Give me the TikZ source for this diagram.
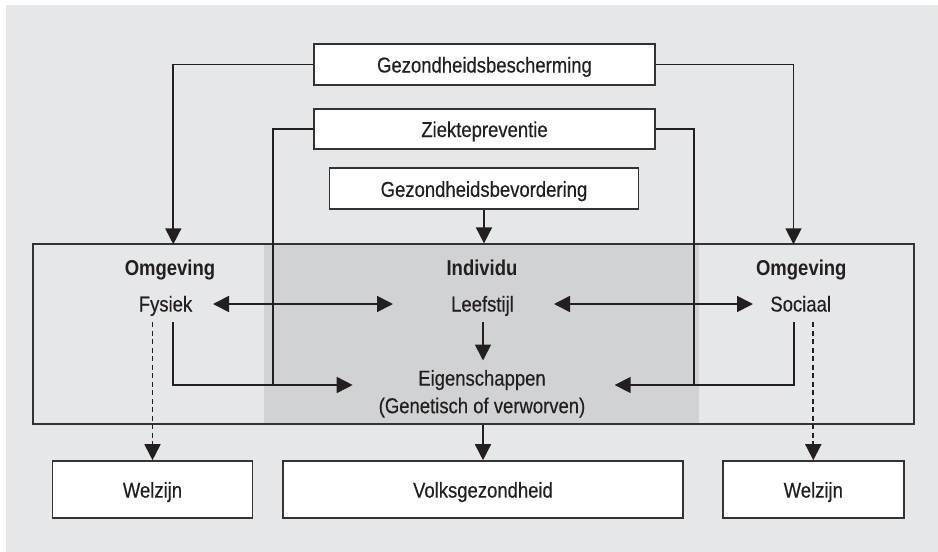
\documentclass[tikz,border=0pt]{standalone}
\usepackage{fontspec}
\setmainfont{Liberation Sans}[FakeStretch=0.86, UprightFeatures={FakeBold=0.4}]
\usetikzlibrary{arrows.meta}
\definecolor{bg}{HTML}{E6E7E8}
\definecolor{indfill}{HTML}{D1D2D4}
\definecolor{ink}{HTML}{231F20}
\definecolor{edge}{HTML}{333333}
\begin{document}
\begin{tikzpicture}[x=1pt,y=-1pt,
  font=\fontsize{21.5}{25}\selectfont,
  box/.style={draw=edge, fill=white, line width=1.8pt, text=ink, text height=16pt, text depth=0pt, inner sep=0pt},
  lab/.style={anchor=base, inner sep=0pt, text=ink},
  conn/.style={draw=ink, line width=1.7pt},
  arr/.style={conn, -{Triangle[length=16pt,width=16pt]}},
  darr/.style={conn, {Triangle[length=16pt,width=16pt]}-{Triangle[length=16pt,width=16pt]}},
  dsh/.style={arr, dash pattern=on 5pt off 3.5pt}]
\useasboundingbox (0,0) rectangle (938,552);
\fill[bg] (6,5) rectangle (938,552);
% individu region
\fill[indfill] (264,244.3) rectangle (699,424.3);
\node[draw=edge, line width=1.8pt, minimum width=881pt, minimum height=180pt, inner sep=0pt] (env) at (473.5,334.3) {};
% top boxes
\node[box, minimum width=341pt, minimum height=41pt] (gb) at (484.5,64.5) {Gezondheidsbescherming};
\node[box, minimum width=341pt, minimum height=40pt] (zp) at (484.5,129) {Ziektepreventie};
\node[box, minimum width=309pt, minimum height=41pt] (gv) at (484,188.8) {Gezondheidsbevordering};
% bottom boxes
\node[box, minimum width=200pt, minimum height=57pt] (wl) at (152.5,489.6) {Welzijn};
\node[box, minimum width=400pt, minimum height=57pt] (vg) at (483,489.6) {Volksgezondheid};
\node[box, minimum width=181pt, minimum height=57pt] (wr) at (813.3,489.6) {Welzijn};
% labels
\node[lab] (omgL) at (170,275.5) {\bfseries Omgeving};
\node[lab] (indiv) at (482,275.5) {\bfseries Individu};
\node[lab] (omgR) at (801.3,275.5) {\bfseries Omgeving};
\node[lab] (fys) at (165.5,311.5) {Fysiek};
\node[lab] (lfs) at (482.5,311.5) {Leefstijl};
\node[lab] (soc) at (800.7,311.5) {Sociaal};
\node[lab] (eig) at (482,385.6) {Eigenschappen};
\node[lab] (eig2) at (482,413.2) {(Genetisch of verworven)};
% coordinates
\coordinate (tL) at (173.3,244.3);
\coordinate (tR) at (793.5,244.3);
\coordinate (zL) at (273.3,385);
\coordinate (zR) at (693.7,385);
\coordinate (fs) at (173.3,322);
\coordinate (fe) at (352.7,385);
\coordinate (ss) at (793.7,322);
\coordinate (se) at (614.7,385);
\coordinate (fd) at (153,322);
\coordinate (sd) at (813,322);
\coordinate (ls) at (483,322);
\coordinate (le) at (483,360.5);
\coordinate (fl1) at (213,304);
\coordinate (fl2) at (393,304);
\coordinate (ls1) at (554,304);
\coordinate (ls2) at (753,304);
% connectors
\draw[arr] (gb.west) -| (tL);
\draw[arr] (gb.east) -| (tR);
\draw[conn] (zp.west) -| (zL);
\draw[conn] (zp.east) -| (zR);
\draw[arr] (gv.south) -- (gv.south |- env.north);
\draw[arr] (fs) |- (fe);
\draw[arr] (ss) |- (se);
\draw[darr] (fl1) -- (fl2);
\draw[darr] (ls1) -- (ls2);
\draw[arr] (ls) -- (le);
\draw[arr] (vg.north |- env.south) -- (vg.north);
\draw[dsh] (wl.north |- fd) -- (wl.north);
\draw[dsh] (wr.north |- sd) -- (wr.north);
\end{tikzpicture}
\end{document}
